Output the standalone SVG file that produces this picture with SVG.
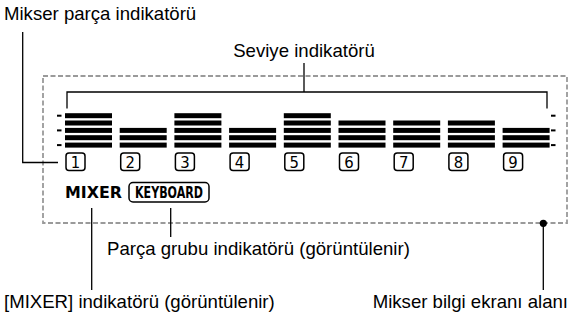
<svg xmlns="http://www.w3.org/2000/svg" width="571" height="320" viewBox="0 0 571 320">
<style>
.lbl{font-family:"Liberation Sans",Arial,sans-serif;font-size:18.6px;fill:#000}
.bar{fill:#000}
.tick{fill:#000}
.num{fill:none;stroke:#000;stroke-width:1.5}
.numt{font-family:"DejaVu Sans Condensed","DejaVu Sans",sans-serif;font-size:16.5px;fill:#000;text-anchor:middle}
.ln{fill:none;stroke:#000;stroke-width:1.3}
.area{fill:none;stroke:#9a9a9a;stroke-width:1.8;stroke-dasharray:5 2.5}
</style>
<rect id="display-area" class="area" x="43" y="76" width="524" height="147"/>
<g id="levels">
<g id="col1"><rect class="bar" x="65" y="113.2" width="47" height="5"/><rect class="bar" x="65" y="120.5" width="47" height="5"/><rect class="bar" x="65" y="127.9" width="47" height="5"/><rect class="bar" x="65" y="135.2" width="47" height="5"/><rect class="bar" x="65" y="142.6" width="47" height="5"/></g>
<g id="col2"><rect class="bar" x="119.7" y="127.9" width="47" height="5"/><rect class="bar" x="119.7" y="135.2" width="47" height="5"/><rect class="bar" x="119.7" y="142.6" width="47" height="5"/></g>
<g id="col3"><rect class="bar" x="174.4" y="113.2" width="47" height="5"/><rect class="bar" x="174.4" y="120.5" width="47" height="5"/><rect class="bar" x="174.4" y="127.9" width="47" height="5"/><rect class="bar" x="174.4" y="135.2" width="47" height="5"/><rect class="bar" x="174.4" y="142.6" width="47" height="5"/></g>
<g id="col4"><rect class="bar" x="229.1" y="127.9" width="47" height="5"/><rect class="bar" x="229.1" y="135.2" width="47" height="5"/><rect class="bar" x="229.1" y="142.6" width="47" height="5"/></g>
<g id="col5"><rect class="bar" x="283.8" y="113.2" width="47" height="5"/><rect class="bar" x="283.8" y="120.5" width="47" height="5"/><rect class="bar" x="283.8" y="127.9" width="47" height="5"/><rect class="bar" x="283.8" y="135.2" width="47" height="5"/><rect class="bar" x="283.8" y="142.6" width="47" height="5"/></g>
<g id="col6"><rect class="bar" x="338.5" y="120.5" width="47" height="5"/><rect class="bar" x="338.5" y="127.9" width="47" height="5"/><rect class="bar" x="338.5" y="135.2" width="47" height="5"/><rect class="bar" x="338.5" y="142.6" width="47" height="5"/></g>
<g id="col7"><rect class="bar" x="393.2" y="120.5" width="47" height="5"/><rect class="bar" x="393.2" y="127.9" width="47" height="5"/><rect class="bar" x="393.2" y="135.2" width="47" height="5"/><rect class="bar" x="393.2" y="142.6" width="47" height="5"/></g>
<g id="col8"><rect class="bar" x="447.9" y="120.5" width="47" height="5"/><rect class="bar" x="447.9" y="127.9" width="47" height="5"/><rect class="bar" x="447.9" y="135.2" width="47" height="5"/><rect class="bar" x="447.9" y="142.6" width="47" height="5"/></g>
<g id="col9"><rect class="bar" x="502.6" y="127.9" width="47" height="5"/><rect class="bar" x="502.6" y="135.2" width="47" height="5"/><rect class="bar" x="502.6" y="142.6" width="47" height="5"/></g>
</g>
<g id="ticks">
<rect class="tick" x="57" y="114.7" width="4.5" height="2"/><rect class="tick" x="57" y="129.4" width="4.5" height="2"/><rect class="tick" x="57" y="144.1" width="4.5" height="2"/>
<rect class="tick" x="551" y="114.7" width="4.5" height="2"/><rect class="tick" x="551" y="129.4" width="4.5" height="2"/><rect class="tick" x="551" y="144.1" width="4.5" height="2"/>
</g>
<g id="part-numbers">
<g id="p1"><rect class="num" x="66" y="153" width="19" height="17.5" rx="3"/><text class="numt" x="75.5" y="168">1</text></g>
<g id="p2"><rect class="num" x="120.7" y="153" width="19" height="17.5" rx="3"/><text class="numt" x="130.2" y="168">2</text></g>
<g id="p3"><rect class="num" x="175.4" y="153" width="19" height="17.5" rx="3"/><text class="numt" x="184.9" y="168">3</text></g>
<g id="p4"><rect class="num" x="230.1" y="153" width="19" height="17.5" rx="3"/><text class="numt" x="239.6" y="168">4</text></g>
<g id="p5"><rect class="num" x="284.8" y="153" width="19" height="17.5" rx="3"/><text class="numt" x="294.3" y="168">5</text></g>
<g id="p6"><rect class="num" x="339.5" y="153" width="19" height="17.5" rx="3"/><text class="numt" x="349" y="168">6</text></g>
<g id="p7"><rect class="num" x="394.2" y="153" width="19" height="17.5" rx="3"/><text class="numt" x="403.7" y="168">7</text></g>
<g id="p8"><rect class="num" x="448.9" y="153" width="19" height="17.5" rx="3"/><text class="numt" x="458.4" y="168">8</text></g>
<g id="p9"><rect class="num" x="503.6" y="153" width="19" height="17.5" rx="3"/><text class="numt" x="513.1" y="168">9</text></g>
</g>
<g id="mixer-indicator"><text x="65" y="198" font-family="DejaVu Sans, sans-serif" font-weight="bold" font-size="15" textLength="57" lengthAdjust="spacingAndGlyphs">MIXER</text></g>
<g id="keyboard-indicator"><rect class="num" x="129" y="182.5" width="80" height="19.5" rx="4"/><text x="135" y="197.8" font-family="DejaVu Sans Condensed, DejaVu Sans, sans-serif" font-weight="bold" font-size="15" textLength="68" lengthAdjust="spacingAndGlyphs">KEYBOARD</text></g>
<g id="connectors">
<path class="ln" d="M22.7,32 V162.5 H58"/>
<path class="ln" d="M67,108.5 V92 H547 V108.5"/>
<path class="ln" d="M304,63 V92"/>
<path class="ln" d="M91.7,208 V290"/>
<path class="ln" d="M170.7,208 V237"/>
<path class="ln" d="M543.3,223 V290"/>
<circle cx="543.3" cy="223.3" r="3.6" fill="#000"/>
</g>
<g id="labels">
<text class="lbl" x="4" y="20">Mikser parça indikatörü</text>
<text class="lbl" x="304" y="57" text-anchor="middle">Seviye indikatörü</text>
<text class="lbl" x="107" y="255">Parça grubu indikatörü (görüntülenir)</text>
<text class="lbl" x="4" y="308">[MIXER] indikatörü (görüntülenir)</text>
<text class="lbl" x="568" y="308" text-anchor="end">Mikser bilgi ekranı alanı</text>
</g>
</svg>
